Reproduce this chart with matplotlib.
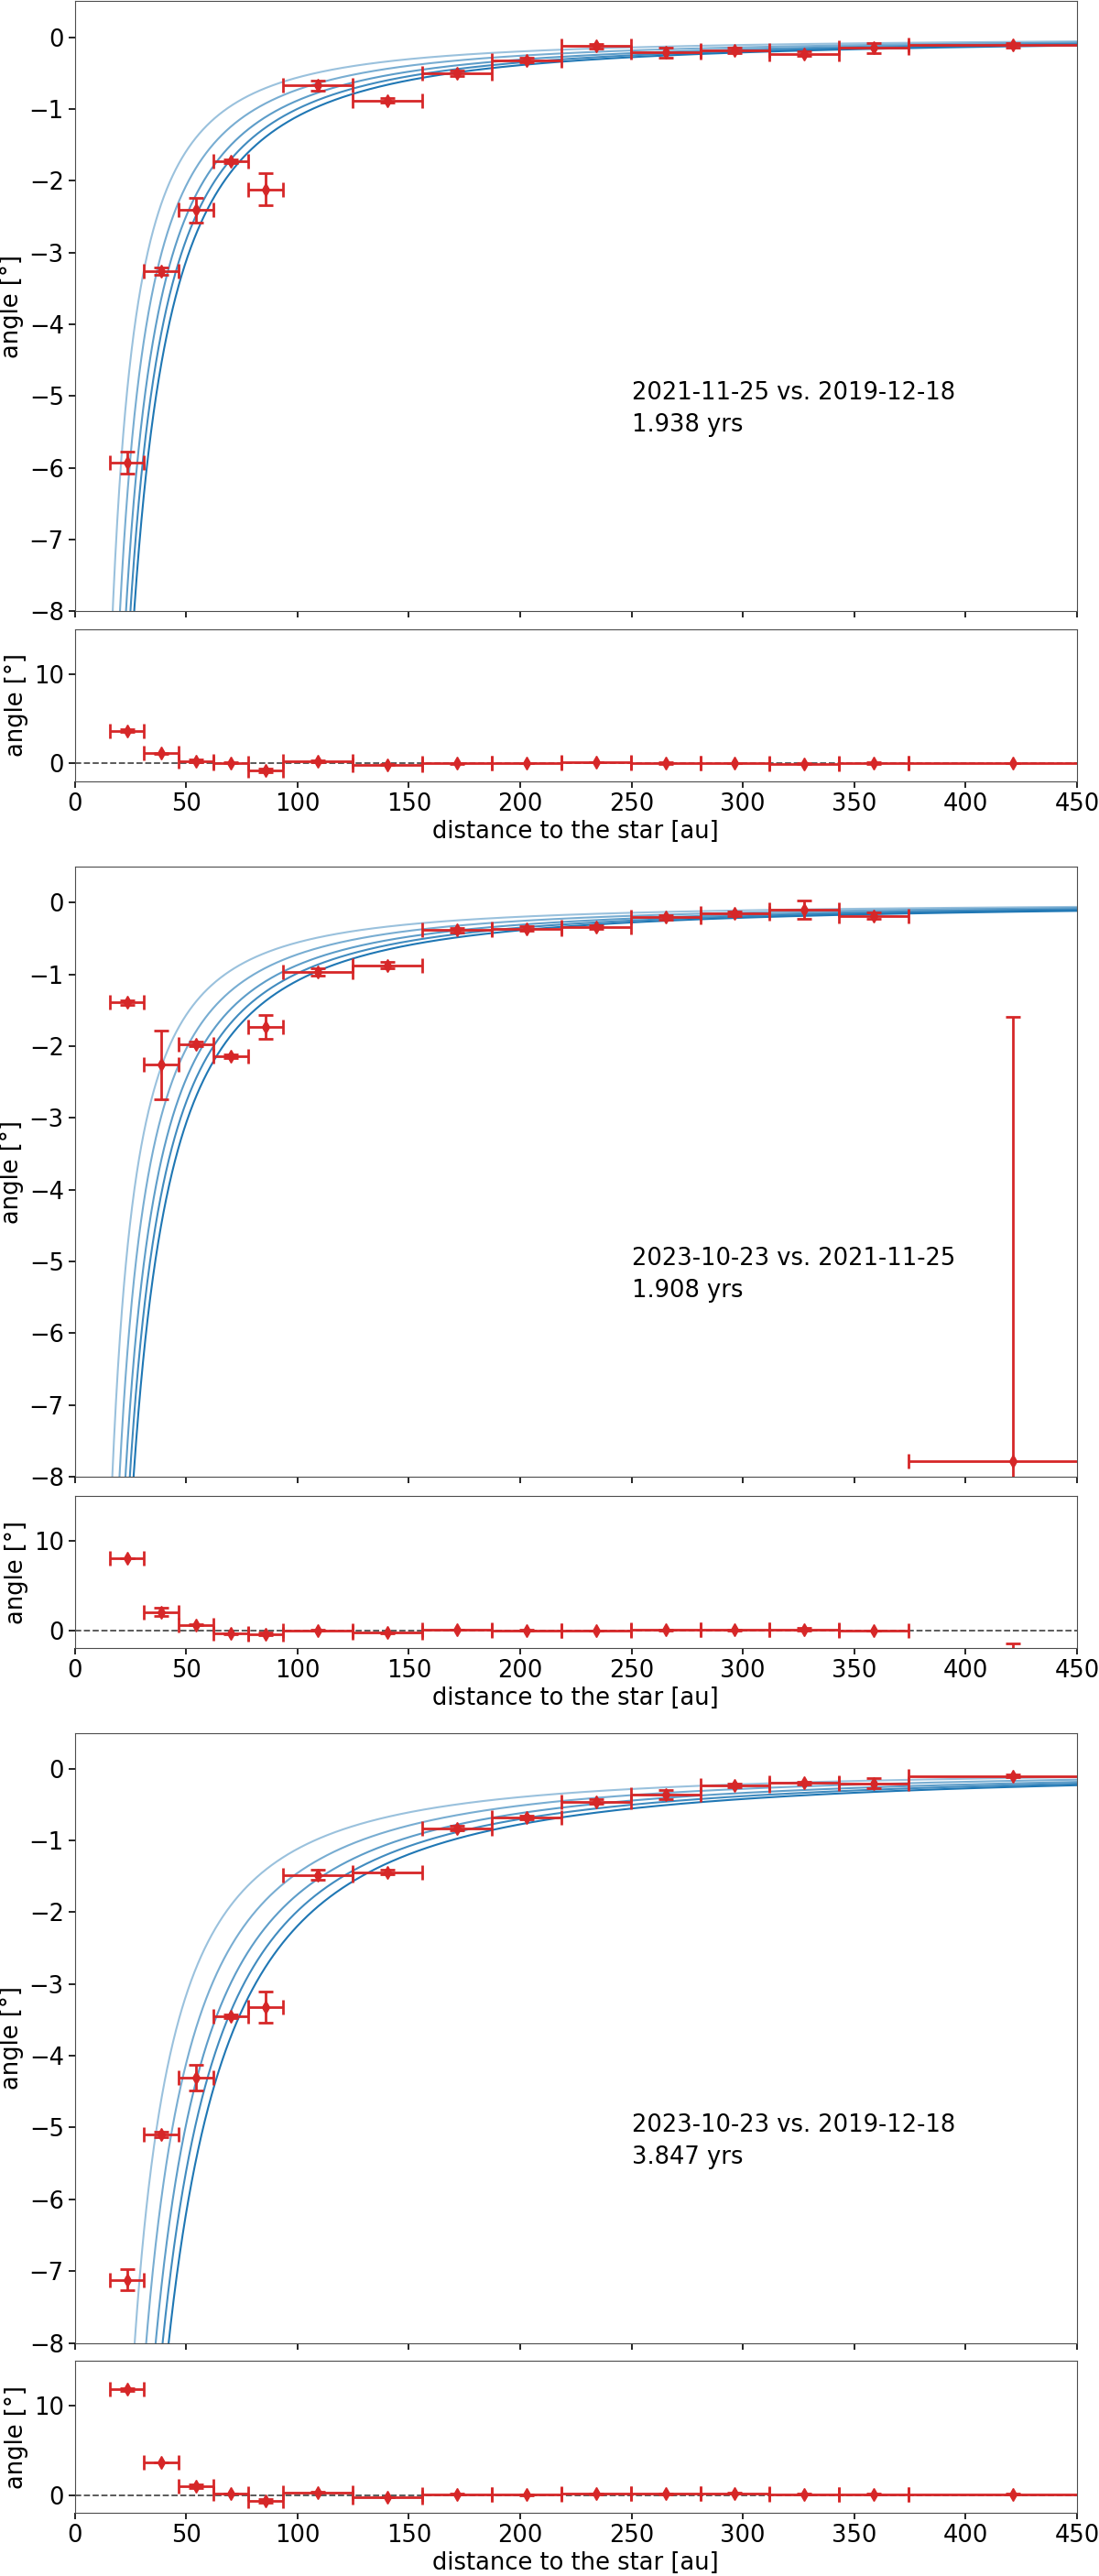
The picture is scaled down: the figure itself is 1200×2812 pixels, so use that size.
import numpy as np
import matplotlib
matplotlib.use("Agg")
import matplotlib.pyplot as plt

# radial bins (au) and their half widths
r_bin = [23.4, 39.0, 54.6, 70.2, 85.8, 109.2, 140.4, 171.6, 202.8, 234.0, 265.2, 296.4, 327.6, 358.8, 421.2]
r_half = [7.8, 7.8, 7.8, 7.8, 7.8, 15.6, 15.6, 15.6, 15.6, 15.6, 15.6, 15.6, 15.6, 15.6, 46.8]

# 2021-11-25 vs. 2019-12-18
angle_1 = [-5.93, -3.26, -2.41, -1.73, -2.12, -0.67, -0.88, -0.50, -0.32, -0.125, -0.21, -0.18, -0.23, -0.15, -0.11]
err_1 = [0.15, 0.05, 0.17, 0.03, 0.22, 0.07, 0.03, 0.04, 0.03, 0.03, 0.07, 0.04, 0.03, 0.07, 0.03]
res_1 = [3.63, 1.12, 0.27, 0.07, -0.81, 0.24, -0.14, 0.0, 0.03, 0.14, 0.03, 0.03, -0.03, 0.03, 0.03]

# 2023-10-23 vs. 2021-11-25
angle_2 = [-1.39, -2.26, -1.97, -2.14, -1.73, -0.96, -0.87, -0.38, -0.36, -0.34, -0.205, -0.154, -0.097, -0.18, -7.78]
err_2 = [0.03, 0.48, 0.03, 0.03, 0.17, 0.05, 0.05, 0.03, 0.03, 0.03, 0.03, 0.03, 0.13, 0.04, 6.19]
res_2 = [8.05, 2.05, 0.61, -0.38, -0.41, -0.03, -0.27, 0.07, 0.0, -0.03, 0.03, 0.03, 0.10, -0.03, -7.66]

# 2023-10-23 vs. 2019-12-18
angle_3 = [-7.12, -5.10, -4.30, -3.45, -3.32, -1.48, -1.44, -0.83, -0.68, -0.456, -0.36, -0.234, -0.20, -0.205, -0.10]
err_3 = [0.15, 0.04, 0.18, 0.03, 0.22, 0.07, 0.03, 0.03, 0.03, 0.03, 0.07, 0.03, 0.02, 0.07, 0.02]
res_3 = [11.84, 3.65, 0.96, 0.17, -0.68, 0.31, -0.24, 0.10, 0.03, 0.14, 0.14, 0.20, 0.10, 0.10, 0.10]

labels = ["2021-11-25 vs. 2019-12-18", "2023-10-23 vs. 2021-11-25", "2023-10-23 vs. 2019-12-18"]
baselines = [1.938, 1.908, 3.847]  # yrs

# stellar masses (Msun) of the Keplerian model curves
masses = [0.65, 1.1, 1.6, 2.05, 2.5]
curve_alpha = [0.45, 0.6, 0.72, 0.85, 1.0]

angles = [angle_1, angle_2, angle_3]
errs = [err_1, err_2, err_3]
resids = [res_1, res_2, res_3]

FS = 18.5
plt.rcParams['font.size'] = FS
plt.rcParams['axes.edgecolor'] = '0.3'

fig = plt.figure(figsize=(12, 28.12), dpi=100)

main_bottom = [0.7627, 0.4267, 0.0905]
res_bottom = [0.6967, 0.3602, 0.0245]
left, width = 0.068, 0.912

r_model = np.linspace(5, 450, 3000)
eb_style = dict(fmt='d', color='tab:red', ms=7, elinewidth=2.0, capsize=5.5, capthick=2.0, zorder=3)

for i in range(3):
    ax = fig.add_axes([left, main_bottom[i], width, 0.2368])
    axr = fig.add_axes([left, res_bottom[i], width, 0.059])

    for m, a in zip(masses, curve_alpha):
        # Keplerian rotation over the time baseline
        model = -360.0 * baselines[i] * np.sqrt(m) / r_model ** 1.5
        ax.plot(r_model, model, color='tab:blue', alpha=a, lw=1.5, zorder=1)

    ax.errorbar(r_bin, angles[i], xerr=r_half, yerr=errs[i], **eb_style)
    ax.text(250, -5.5, labels[i] + "\n" + f"{baselines[i]:.3f} yrs", fontsize=FS, linespacing=1.45)

    ax.set_xlim(0, 450)
    ax.set_ylim(-8, 0.5)
    ax.set_yticks(range(-8, 1))
    ax.set_xticks(range(0, 451, 50))
    ax.tick_params(axis='x', labelbottom=False)
    ax.tick_params(length=5, width=1.2, labelsize=FS)
    ax.set_ylabel('angle [°]', fontsize=FS)

    axr.axhline(0, color='0.3', ls='--', lw=1.3, zorder=1)
    axr.errorbar(r_bin, resids[i], xerr=r_half, yerr=errs[i], **eb_style)
    axr.set_xlim(0, 450)
    axr.set_ylim(-2, 15)
    axr.set_yticks([0, 10])
    axr.set_xticks(range(0, 451, 50))
    axr.tick_params(length=5, width=1.2, labelsize=FS)
    axr.set_ylabel('angle [°]', fontsize=FS)
    axr.set_xlabel('distance to the star [au]', fontsize=FS, labelpad=3)

fig.savefig('out.png', dpi=100)
